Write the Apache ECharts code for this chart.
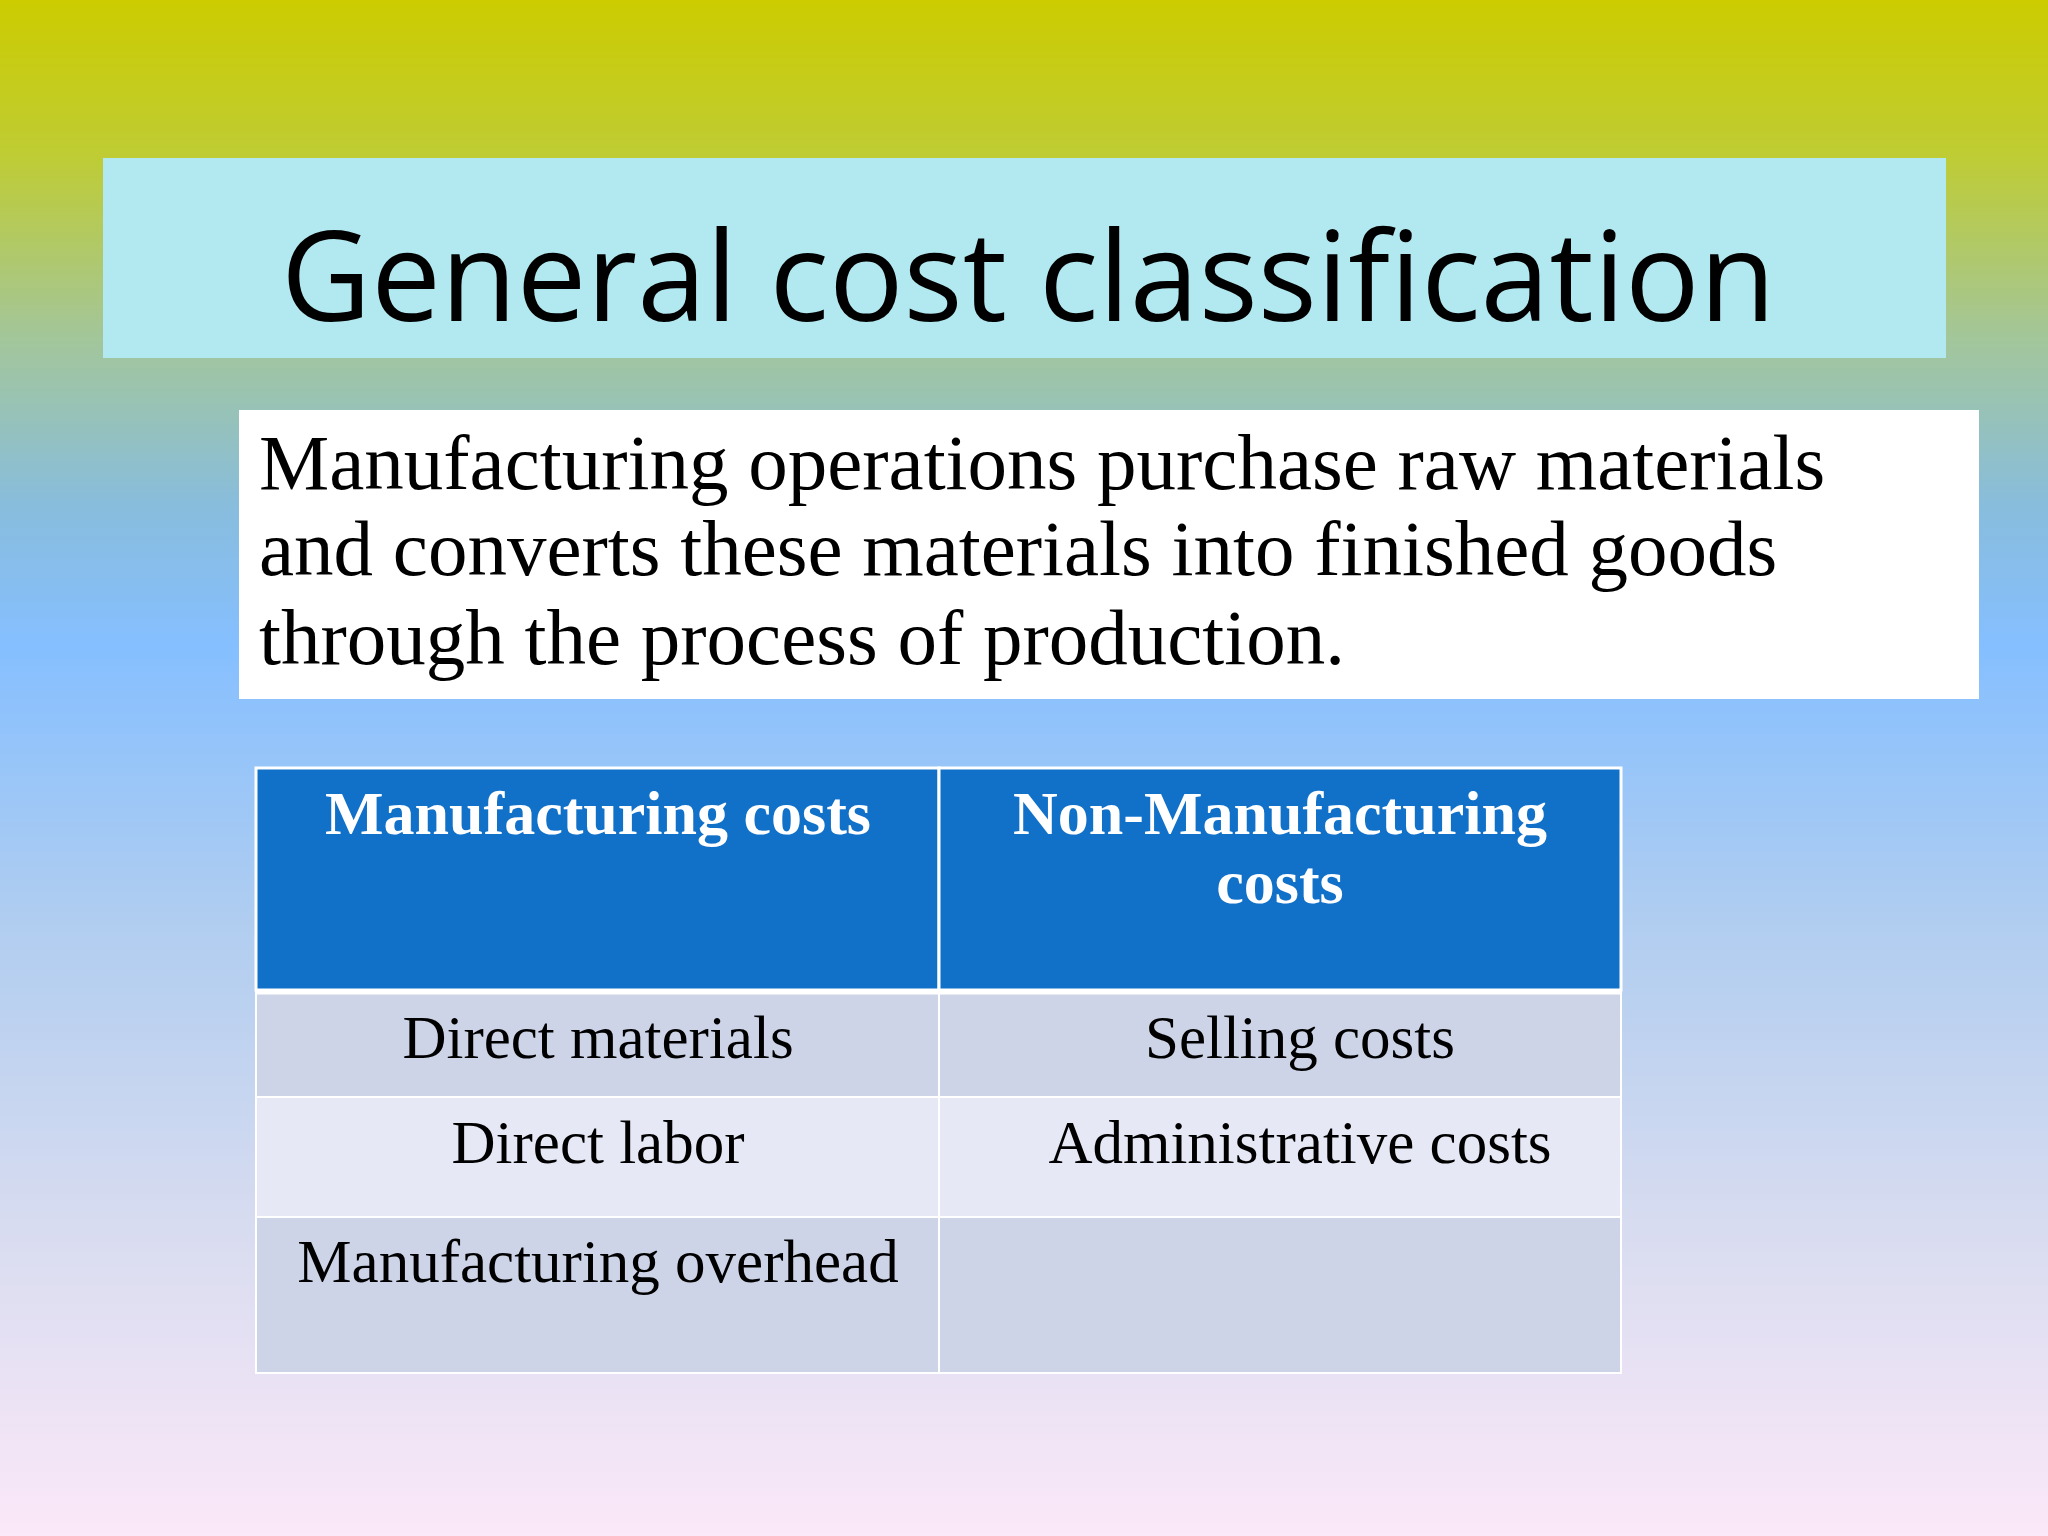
<!DOCTYPE html>
<html><head><meta charset="utf-8">
<script src="https://cdn.jsdelivr.net/npm/echarts@6/dist/echarts.min.js"></script>
<style>html,body{margin:0;padding:0}#c{width:2048px;height:1536px}</style>
</head><body><div id="c"></div>
<script>
const title = "General cost classification";
const bodyLines = ["Manufacturing operations purchase raw materials","and converts these materials into finished goods","through the process of production."];
const headers = [["Manufacturing costs"],["Non-Manufacturing","costs"]];
const col1 = ["Direct materials","Direct labor","Manufacturing overhead"];
const col2 = ["Selling costs","Administrative costs",""];

const chart = echarts.init(document.getElementById('c'));
const g = [];
g.push({type:'rect',shape:{x:0,y:0,width:2048,height:1536},silent:true,style:{fill:new echarts.graphic.LinearGradient(0,0,0,1,[
 {offset:0,color:'#cccc00'},{offset:0.1,color:'#bfcc33'},{offset:0.22,color:'#a3c69a'},{offset:0.33,color:'#88bddd'},{offset:0.42,color:'#85bfff'},{offset:0.6,color:'#b0cdf0'},{offset:0.8,color:'#d8dcf0'},{offset:1,color:'#fbe8f8'}])}});
g.push({type:'rect',shape:{x:103,y:158,width:1843,height:200},style:{fill:'#b2e8f0'}});
g.push({type:'text',x:281,y:286,style:{text:title,font:'124px "Open Sans"',fill:'#000',verticalAlign:'middle'}});
g.push({type:'rect',shape:{x:239,y:410,width:1740,height:289},style:{fill:'#ffffff'}});
const ly=[468,554,643];
bodyLines.forEach((t,i)=>g.push({type:'text',x:259,y:ly[i],style:{text:t,font:'79px "Liberation Serif"',fill:'#000',verticalAlign:'middle'}}));
const X0=256,X1=939,X2=1621, Y=[768,990,1097,1217,1373];
const fills=['#1170c8','#cdd4e8','#e6e9f5','#cdd4e8'];
for(let r=0;r<4;r++){
 [[X0,X1],[X1,X2]].forEach(([a,b])=>g.push({type:'rect',shape:{x:a,y:Y[r],width:b-a,height:Y[r+1]-Y[r]},style:{fill:fills[r],stroke:'#ffffff',lineWidth:r===0?3:2}}));
}
g.push({type:'line',shape:{x1:X0,y1:Y[1]+2,x2:X2,y2:Y[1]+2},style:{stroke:'#fff',lineWidth:5}});
const hy=[818,887];
headers.forEach((h,c)=>h.forEach((t,i)=>g.push({type:'text',x:c===0?598:1280,y:hy[i],style:{text:t,font:'bold 62px "Liberation Serif"',fill:'#fff',align:'center',verticalAlign:'middle'}})));
const ry=[1042,1147,1266];
col1.forEach((t,i)=>g.push({type:'text',x:598,y:ry[i],style:{text:t,font:'61px "Liberation Serif"',fill:'#000',align:'center',verticalAlign:'middle'}}));
col2.forEach((t,i)=>g.push({type:'text',x:1300,y:ry[i],style:{text:t,font:'61px "Liberation Serif"',fill:'#000',align:'center',verticalAlign:'middle'}}));
chart.setOption({animation:false,graphic:{elements:g}});
</script></body></html>
